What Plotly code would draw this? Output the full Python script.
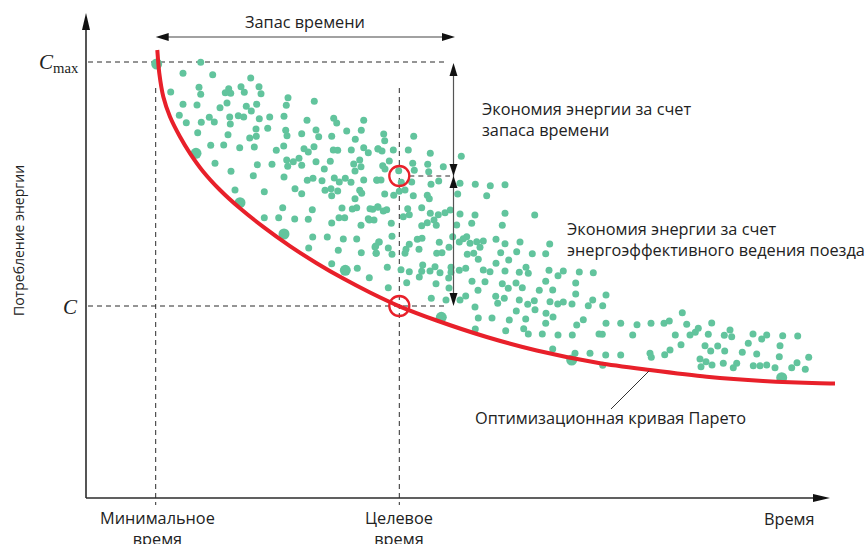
import plotly.graph_objects as go

# ---- data (time, energy in chart units; energy axis runs downward in drawing units) ----
pts_t = [200.7,183,212.7,250.7,170.7,199,200.7,228.7,225.3,230.7,241,244.3,259,261,288,314.3,183,197,227,220,
         246.3,251.3,256.7,286.3,179.3,186.3,201.3,209.3,214.3,229.7,230.3,238.3,243.7,259.3,269.7,284,307,333.7,336.7,363.7,
         197.7,228,256,256.3,249.7,267.7,285.7,287,301.7,316,318.7,331.7,346.7,361.3,355.3,210.7,223.7,239.7,254.3,276.3,
         283.7,304,308.3,314,333.3,337.7,351.3,363.7,368.3,378,215,231,257.3,272,286.7,287.7,293.3,299,301.7,316,
         324.3,330.3,353.7,359.7,361,355,253.3,284,307.3,313,322,334.3,339.3,345.3,351,363.7,377,235,264.3,295,
         301.7,325,331,331.7,337.7,359.7,361.7,355,282.7,312.3,342,352.3,356.7,372.7,378,264.3,278.7,294.7,308.3,339,
         344.7,368.3,331.7,361,369.3,374,312.7,327.3,343.3,356.7,378.7,375,376.3,308.7,338.3,361.3,331.7,357.3,369.3,
         413.7,383.7,384.7,378,382,393.3,408.3,430.3,461.3,389.3,382.7,385,412.7,414.3,427.7,428.7,443.3,376.7,381,398.7,
         401.3,411.7,431,438.7,460,475.3,490.3,505,384.7,393.7,399.3,405,413.3,427.3,429.3,457.7,486.7,421.7,407.7,409.3,
         370,377.7,383.3,386.7,430.3,438.3,445,450.3,460,475,505,534.7,403.3,
         391.3,421.7,427.3,434,436.3,456.7,471.7,502.3,392,379.3,375.7,376,388.3,392,406,409.3,405,417.3,422,419,
         439.3,436.7,442,449,452.7,459.3,463.3,466.7,470,476.7,483.3,480,467.3,473.7,478.3,496,505,520,500.7,508.7,
         516.7,532.3,545.7,549.7,387.3,401,409.3,422.7,421.7,430,435,440,419.3,451,451,459.3,465.7,448.7,483.3,490,
         496,505,519.3,526,528.3,549,563.3,558,579.3,593.3,406.7,388.3,436,449,472,478,485,502.3,508.3,516,
         522.3,539.3,545.7,552.7,575.7,575.7,431.3,446,460,465.7,495.7,497.7,504.3,519.3,527.7,534.3,535,550,557.7,563.3,
         572,592.7,588.3,475,516.3,546,553,478.3,492,509.3,525.7,545.7,583.3,576.7,475.3,505.7,523.7,528.3,542.3,558,
         572.3,599,552.7,575,590,
         606,602.7,606,620.7,602.3,637,651,632.7,664,669.3,682.3,686.7,675.3,690,695.3,698.3,711.7,708.3,681,670,
         664.7,650,651.3,605.7,620.7,602.7,705,710.7,717.7,724.7,730,724.3,731.7,753,748.3,761.7,766.7,782.7,797.7,780,
         700,706,701,712,723.3,736.7,733.3,742.3,756.7,753.3,760,766.7,775,779.3,791.7,797,805.3,808.7]
pts_e = [62.3,73.3,74.7,78,92,87.3,94.3,88.7,92.7,93.3,86.7,92.3,86.7,93.7,97.7,101.3,104.3,105,103,107.7,
         106.3,111,104.3,105.3,115.3,122.7,122.3,117.3,122,117,124,115.7,117,118.7,117,116.3,120.3,118.3,123,120.3,
         132.7,134.7,129,136.3,138,128.3,130.3,135.7,133.7,130,136.7,136.3,131,130.3,139.3,145.3,145,147.7,147,150.3,
         146,148.7,152,146.7,150,150.3,150,147.7,152.7,149,163.3,171.3,164.7,164.3,160,166.3,161.7,158.3,165.3,161.7,
         169,161.3,164,160,166.7,171,175.7,177,180.3,178.3,180.7,178,182,178.3,182.3,180,180.3,190,191.7,188.7,
         193.7,190.3,188.7,195.7,191,190.3,193.3,198.7,207.7,209.7,208,209,207.7,209.3,207.3,217.7,217.7,219,219.3,217.7,
         217.7,218.7,223,225.3,220,220,237,237,239,239,242,247,253.3,248,250.3,252.7,263.7,268.3,277.7,
         136.3,134,140.7,148.7,151,150,150,153.3,156.3,161,165.7,169,163.3,170.3,164.3,171.7,166.7,180,180,170.7,
         182.3,182,184.3,181,183.3,184.3,185.7,184.7,194,195.3,191.3,190,195.7,195.3,198.7,194,195.7,207.7,208.7,214.7,
         208.7,206.7,211,209.7,213.3,214.7,212.7,210,214,215,213.3,215,216.7,
         223.3,225.7,222.7,220,225.3,225,223.3,225.3,236.3,242,246,253.3,248,254.3,249.3,244.3,253.3,239.3,238.3,249.3,
         242.3,253.3,252.7,247.3,236.7,242,238.7,236.7,243.3,241.7,241,247.3,254.3,253.3,259.3,239.3,243.7,242,252.7,260,
         251.7,253.7,253.7,244,267.3,269.7,271.7,265,271.3,271,266.7,272.7,277,267.3,272.3,270.3,268.3,278,270,271.7,
         263.3,271,272.3,267.3,273.3,270.3,271,275.7,272,272.7,282.7,287.7,283.7,288,281.3,290.3,281.7,283.7,288.3,283,
         287.7,290.3,281.3,290,283,294,298.3,300,300,296,296.3,303.3,298.3,300,304.3,300.7,309.7,301.7,304,302,
         304,300,305.7,307,311,313.3,317,318,318,320,319,323.3,319.7,325,329,330.7,328.7,334,334,335,
         335,334,349,353.3,353.3,
         295,305.7,323.3,323.3,334.3,324.7,323.3,335,323.3,321,312.7,324.3,335,335,332.3,328.3,323,334.3,344.7,350,
         354.7,353.3,357.3,355,355,365.3,345.7,351,346,351,330,335.3,336.7,334,343.3,339,335,335.7,336,345.7,
         359,361.7,366.7,365,363.3,363.3,367.7,352.3,354,365.7,365.7,365,367.7,356.7,367.7,362.7,369.3,357.3]

big_t = [156.7, 196, 240, 284, 345.3, 441.3, 571.7, 781.7]
big_e = [64, 153.3, 202.7, 234, 270.3, 317.3, 360, 377.7]

pareto_t = [157.3, 159.3, 163.3, 170, 180, 190, 203.3, 220, 240, 263.3, 290, 316.7, 343.3, 370, 398.3,
            436.7, 486.7, 536.7, 600, 650, 706.7, 763, 820, 835]
pareto_e = [50, 73.3, 96.7, 116.7, 136.7, 153.3, 171.7, 190, 208.3, 226.9, 246.1, 263.2, 278.6, 292.5, 305.8,
            320.5, 337, 350.5, 363.3, 370, 376.7, 381, 383.3, 383.5]

t_axis0, t_axis_end = 86, 830
e_axis0, e_axis_top = 498, 13
t_min, t_target, t_reserve_end = 155.7, 399.3, 455
e_cmax, e_c, e_target = 62, 306, 176
t_arrow = 453.5

GREEN = '#62c49d'
RED = '#e8202a'
INK = '#2b2b2b'

fig = go.Figure()
fig.add_trace(go.Scatter(x=pts_t, y=pts_e, mode='markers',
                         marker=dict(size=7, color=GREEN, line=dict(width=0)), hoverinfo='skip'))
fig.add_trace(go.Scatter(x=big_t, y=big_e, mode='markers',
                         marker=dict(size=11, color=GREEN, line=dict(width=0)), hoverinfo='skip'))
fig.add_trace(go.Scatter(x=pareto_t, y=pareto_e, mode='lines',
                         line=dict(color=RED, width=4, shape='spline', smoothing=0.7), hoverinfo='skip'))

shapes = []
dash = '5px,4px'
def dline(x0, y0, x1, y1):
    shapes.append(dict(type='line', x0=x0, y0=y0, x1=x1, y1=y1, xref='x', yref='y',
                       line=dict(color=INK, width=1, dash=dash), layer='below'))
def sline(x0, y0, x1, y1, w=1.5, color=INK):
    shapes.append(dict(type='line', x0=x0, y0=y0, x1=x1, y1=y1, xref='x', yref='y',
                       line=dict(color=color, width=w)))
def tri(tipx, tipy, direction, L=14, hw=4):
    if direction == 'up':
        p = f'M{tipx},{tipy} L{tipx-hw},{tipy+L} L{tipx+hw},{tipy+L} Z'
    elif direction == 'down':
        p = f'M{tipx},{tipy} L{tipx-hw},{tipy-L} L{tipx+hw},{tipy-L} Z'
    elif direction == 'left':
        p = f'M{tipx},{tipy} L{tipx+L},{tipy-hw} L{tipx+L},{tipy+hw} Z'
    else:
        p = f'M{tipx},{tipy} L{tipx-L},{tipy-hw} L{tipx-L},{tipy+hw} Z'
    shapes.append(dict(type='path', path=p, xref='x', yref='y', fillcolor='#111', line=dict(width=0)))

# dashed guides
dline(t_axis0 + 2, e_cmax, 447, e_cmax)
dline(t_axis0 + 2, e_c, 448, e_c)
dline(t_min, 88, t_min, 505)
dline(t_target, 88, t_target, 505)
dline(t_target + 10, e_target, 450, e_target)

# axes
sline(t_axis0, e_axis0, t_axis0, e_axis_top + 12, w=1.6)
tri(t_axis0, e_axis_top, 'up', L=17, hw=4)
sline(t_axis0, e_axis0, t_axis_end - 12, e_axis0, w=1.6)
tri(t_axis_end, e_axis0, 'right', L=17, hw=4)

# time-reserve arrow
sline(t_min + 6, 37, t_reserve_end - 6, 37, w=1.2, color='#444')
tri(t_min, 37, 'left', L=13, hw=4)
tri(t_reserve_end, 37, 'right', L=13, hw=4)

# vertical saving arrows
sline(t_arrow, e_cmax + 6, t_arrow, e_c - 6, w=1.2, color='#555')
tri(t_arrow, e_cmax + 1, 'up', L=13, hw=4)
tri(t_arrow, e_target, 'down', L=12, hw=4)
tri(t_arrow, e_target, 'up', L=12, hw=4)
tri(t_arrow, e_c, 'down', L=13, hw=4)

# leader line
sline(611, 409, 649, 371, w=1, color='#333')

# highlight circles
for cy in (e_target, e_c):
    shapes.append(dict(type='circle', x0=t_target - 10, x1=t_target + 10, y0=cy - 10, y1=cy + 10,
                       xref='x', yref='y', line=dict(color=RED, width=2.3)))

FONT = 'Open Sans'
ann = []
def text(x, y, s, size=16.3, xanchor='center', family=FONT, color='#222', **kw):
    ann.append(dict(x=x, y=y, text=s, showarrow=False, xref='x', yref='y', xanchor=xanchor,
                    yanchor='middle', font=dict(family=family, size=size, color=color), **kw))

text(305, 22, 'Запас времени')
text(480, 119, 'Экономия энергии за счет<br>запаса времени', xanchor='left', align='left')
text(565, 239, 'Экономия энергии за счет<br>энергоэффективного ведения поезда', xanchor='left', align='left')
text(473, 418, 'Оптимизационная кривая Парето', xanchor='left')
text(157, 528, 'Минимальное<br>время')
text(399, 528, 'Целевое<br>время')
text(789, 519, 'Время')
text(81, 63, '<i>C</i><sub>max</sub>', size=21, xanchor='right', family='Liberation Serif')
text(80, 307, '<i>C</i>', size=21, xanchor='right', family='Liberation Serif')
text(18, 241, 'Потребление энергии', size=14, textangle=-90)

fig.update_layout(width=867, height=544, margin=dict(l=0, r=0, t=0, b=0),
                  paper_bgcolor='white', plot_bgcolor='white', showlegend=False,
                  xaxis=dict(range=[0, 867], visible=False, fixedrange=True),
                  yaxis=dict(range=[544, 0], visible=False, fixedrange=True),
                  shapes=shapes, annotations=ann)
fig.write_html('out.html', config={'displayModeBar': False},
               post_script="document.body.style.margin='0';document.body.style.overflow='hidden';")
